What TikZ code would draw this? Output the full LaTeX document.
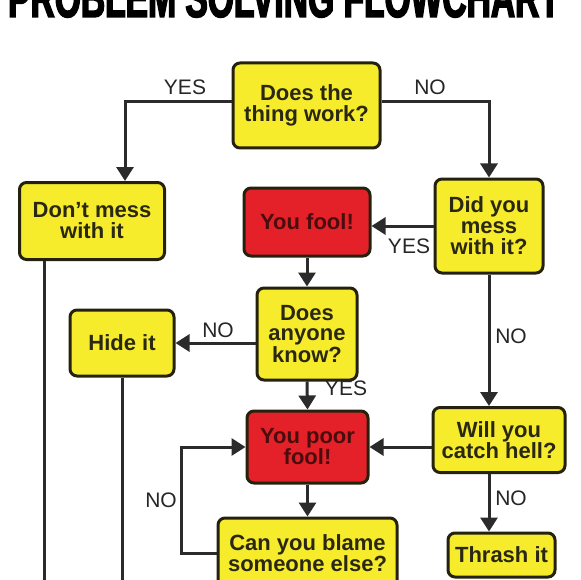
\documentclass[tikz,border=0pt]{standalone}
\usepackage{fontspec}
\setmainfont{Liberation Sans}
\newfontfamily\titlefont{Liberation Sans}[FakeStretch=0.6,FakeBold=2.5]
\usetikzlibrary{arrows.meta}
\definecolor{ybox}{HTML}{F6EC2C}
\definecolor{rbox}{HTML}{E42128}
\definecolor{bordc}{HTML}{24220F}
\definecolor{boxtext}{HTML}{2A2812}
\definecolor{redtext}{HTML}{4A0D0D}
\definecolor{labc}{HTML}{262626}
\definecolor{linec}{HTML}{2B2B2B}
\begin{document}
\begin{tikzpicture}[x=1pt,y=-1pt,
  box/.style={draw=bordc, line width=3pt, rounded corners=7pt, fill=ybox, text=boxtext,
    font=\fontsize{22}{21}\selectfont\bfseries, align=center, inner sep=0pt},
  redbox/.style={box, fill=rbox, text=redtext},
  lab/.style={font=\fontsize{21}{21}\selectfont, text=labc, inner sep=0pt},
  conn/.style={draw=linec, line width=3pt},
  arr/.style={conn, -{Triangle[width=17pt,length=14pt]}}]
\useasboundingbox (0,0) rectangle (580,580);
\clip (0,0) rectangle (580,580);
\fill[white] (0,0) rectangle (580,580);

\node[font=\titlefont\bfseries\fontsize{56}{56}\selectfont, anchor=base, inner sep=0pt] (title) at (284,17) {PROBLEM SOLVING FLOWCHART};

\node[box, minimum width=147pt, minimum height=85pt] (q1) at (306.5,105.5) {Does the\\thing work?};
\node[box, minimum width=145pt, minimum height=77pt] (dont) at (92,221) {Don’t mess\\with it};
\node[redbox, minimum width=126pt, minimum height=68pt] (fool) at (307,222) {You fool!};
\node[box, minimum width=108pt, minimum height=94pt] (q2) at (489,226) {Did you\\mess\\with it?};
\node[box, minimum width=100pt, minimum height=92pt, font=\fontsize{22}{20}\selectfont\bfseries] (q3) at (307,334) {Does\\anyone\\know?};
\node[box, minimum width=104pt, minimum height=66pt] (hide) at (122,343) {Hide it};
\node[redbox, minimum width=121pt, minimum height=72pt] (poor) at (307.5,447) {You poor\\fool!};
\node[box, minimum width=132pt, minimum height=65pt] (q4) at (499,440) {Will you\\catch hell?};
\node[box, minimum width=107pt, minimum height=44pt] (thrash) at (501.5,555) {Thrash it};
\node[box, minimum width=179pt, minimum height=70pt] (q5) at (307.5,553) {Can you blame\\someone else?};

\coordinate (e1) at (44,595);
\coordinate (e2) at (122,595);

\draw[arr] ([yshift=4pt]q1.west) -| ([xshift=33pt]dont.north);
\draw[arr] ([yshift=4pt]q1.east) -| (q2.north);
\draw[arr] (q2.west) -- (fool.east |- q2.west);
\draw[arr] (fool.south) -- (q3.north);
\draw[arr] (q3.west |- hide.east) -- (hide.east);
\draw[arr] (q3.south) -- (poor.north);
\draw[arr] (q2.south) -- (q2.south |- q4.north);
\draw[arr] (q4.west |- poor.east) -- (poor.east);
\draw[arr] (q4.south -| q2.south) -- (thrash.north -| q2.south);
\draw[arr] (poor.south) -- (q5.north);
\draw[arr] (q5.west) -- ++(-35,0) |- (poor.west);
\draw[conn] (dont.south -| e1) -- (e1);
\draw[conn] (hide.south) -- (e2);

\node[lab] (l1) at (185,87) {YES};
\node[lab] (l2) at (430,87) {NO};
\node[lab] (l3) at (409,246) {YES};
\node[lab] (l4) at (218,330) {NO};
\node[lab] (l5) at (346,388) {YES};
\node[lab] (l6) at (511,336) {NO};
\node[lab] (l7) at (511,498) {NO};
\node[lab] (l8) at (161,500) {NO};
\end{tikzpicture}
\end{document}
